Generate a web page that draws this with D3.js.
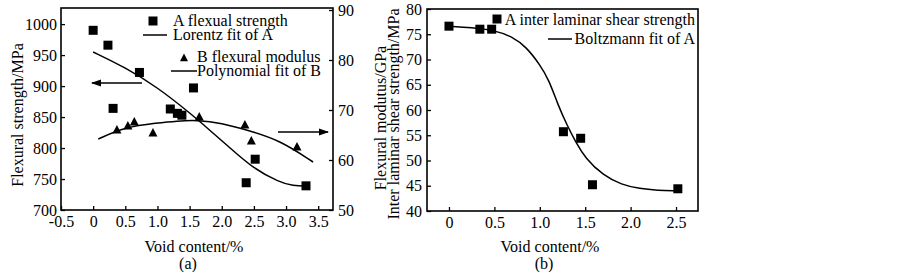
<!DOCTYPE html>
<html>
<head>
<meta charset="utf-8">
<script src="https://cdn.jsdelivr.net/npm/d3@7"></script>
<style>
  body { margin: 0; background: #fff; }
  svg text { font-family: "Liberation Serif", "Times New Roman", serif; font-size: 16px; fill: #000; }
</style>
</head>
<body>
<div id="chart"></div>
<script>
// panel (a) data
var strengthX = [0, 0.23, 0.31, 0.72, 1.2, 1.31, 1.38, 1.56, 2.38, 2.52, 3.31];
var strengthY = [990, 966, 864, 922, 863, 856, 853, 897, 744, 782, 739];
var modulusX = [0.37, 0.54, 0.64, 0.93, 1.65, 2.36, 2.46, 3.17];
var modulusY = [66.0, 66.8, 67.6, 65.4, 68.6, 67.0, 63.8, 62.6];
var lorentzX = [0, 0.5, 1.0, 1.5, 1.8, 2.1, 2.5, 2.9, 3.1, 3.35];
var lorentzY = [955, 930, 898, 857, 830, 803, 766, 745, 739, 738];
var polyX = [0.08, 0.5, 1.0, 1.3, 1.62, 2.0, 2.39, 2.9, 3.42];
var polyY = [64.2, 66.6, 67.4, 67.8, 68.0, 67.4, 66.0, 64.0, 59.6];
var ticksA = [-0.5, 0, 0.5, 1.0, 1.5, 2.0, 2.5, 3.0, 3.5];
var ticksLeftA = [700, 750, 800, 850, 900, 950, 1000];
var ticksRightA = [50, 60, 70, 80, 90];

// panel (b) data
var shearX = [0, 0.34, 0.47, 1.26, 1.45, 1.58, 2.52];
var shearY = [76.6, 76.0, 76.0, 55.7, 54.4, 45.2, 44.4];
var boltzX = [0, 0.25, 0.5, 0.7, 0.85, 1.0, 1.1, 1.2, 1.3, 1.4, 1.5, 1.7, 1.9, 2.1, 2.3, 2.5];
var boltzY = [76.6, 76.3, 75.8, 74.5, 72.5, 69.0, 66.0, 61.0, 57.0, 53.5, 50.5, 47.0, 45.2, 44.4, 44.1, 44.0];
var ticksB = [0, 0.5, 1.0, 1.5, 2.0, 2.5];
var ticksLeftB = [40, 45, 50, 55, 60, 65, 70, 75, 80];

// plain labels: "0", "-0.5", "1.0", "1000"
var fmtX = function(d) { return d === 0 ? "0" : d.toFixed(1); };
var fmtY = function(d) { return String(d); };

var svg = d3.select("#chart").append("svg")
    .attr("width", 903)
    .attr("height", 272);

var defs = svg.append("defs");
defs.append("marker")
    .attr("id", "arrow")
    .attr("viewBox", "0 0 10 10")
    .attr("refX", 9).attr("refY", 5)
    .attr("markerWidth", 7).attr("markerHeight", 7)
    .attr("orient", "auto")
    .append("path")
    .attr("d", "M0,1.5 L10,5 L0,8.5 Z")
    .attr("fill", "#000");

function styleAxis(g) {
    g.select(".domain").remove();
    g.selectAll(".tick line").attr("stroke", "#000").attr("stroke-width", 1.3);
    g.selectAll(".tick text").attr("font-family", null).attr("font-size", null);
}

function square(g, x, y, s) {
    g.append("rect")
        .attr("x", x - s / 2).attr("y", y - s / 2)
        .attr("width", s).attr("height", s)
        .attr("fill", "#000");
}

function triangle(g, x, y, s) {
    g.append("path")
        .attr("d", "M" + x + "," + (y - s * 0.55) + " L" + (x + s / 2) + "," + (y + s * 0.4) + " L" + (x - s / 2) + "," + (y + s * 0.4) + " Z")
        .attr("fill", "#000");
}

// ---------- panel (a) ----------
var xA = d3.scaleLinear().domain([-0.5, 3.73]).range([61, 333]);
var yA = d3.scaleLinear().domain([700, 1026]).range([210, 8]);
var yA2 = d3.scaleLinear().domain([50, 90.4]).range([210, 8]);

var gA = svg.append("g");

gA.append("g").attr("transform", "translate(0,210)")
    .call(d3.axisBottom(xA).tickValues(ticksA).tickFormat(fmtX).tickSize(-4).tickPadding(6))
    .call(styleAxis);
gA.append("g").attr("transform", "translate(61,0)")
    .call(d3.axisLeft(yA).tickValues(ticksLeftA).tickFormat(fmtY).tickSize(-4).tickPadding(4))
    .call(styleAxis);
gA.append("g").attr("transform", "translate(333,0)")
    .call(d3.axisRight(yA2).tickValues(ticksRightA).tickFormat(fmtY).tickSize(-4).tickPadding(5))
    .call(styleAxis);

gA.append("rect")
    .attr("x", 61).attr("y", 8)
    .attr("width", 333 - 61).attr("height", 210 - 8)
    .attr("fill", "none").attr("stroke", "#000").attr("stroke-width", 1.6);

var lineA = d3.line()
    .x(function(d) { return xA(d[0]); })
    .y(function(d) { return yA(d[1]); })
    .curve(d3.curveBasis);
var lineA2 = d3.line()
    .x(function(d) { return xA(d[0]); })
    .y(function(d) { return yA2(d[1]); })
    .curve(d3.curveBasis);

gA.append("path")
    .attr("d", lineA(d3.zip(lorentzX, lorentzY)))
    .attr("fill", "none").attr("stroke", "#000").attr("stroke-width", 1.5);
gA.append("path")
    .attr("d", lineA2(d3.zip(polyX, polyY)))
    .attr("fill", "none").attr("stroke", "#000").attr("stroke-width", 1.5);

strengthX.forEach(function(v, i) { square(gA, xA(v), yA(strengthY[i]), 9); });
modulusX.forEach(function(v, i) { triangle(gA, xA(v), yA2(modulusY[i]), 9); });

// arrows
gA.append("line")
    .attr("x1", 142).attr("y1", 83).attr("x2", 92).attr("y2", 83)
    .attr("stroke", "#000").attr("stroke-width", 1.5)
    .attr("marker-end", "url(#arrow)");
gA.append("line")
    .attr("x1", 278).attr("y1", 132).attr("x2", 328).attr("y2", 132)
    .attr("stroke", "#000").attr("stroke-width", 1.5)
    .attr("marker-end", "url(#arrow)");

// legend (a)
square(gA, 153, 21, 9);
gA.append("text").attr("x", 173).attr("y", 26).text("A flexual strength");
gA.append("line").attr("x1", 143).attr("x2", 167).attr("y1", 35).attr("y2", 35)
    .attr("stroke", "#000").attr("stroke-width", 1.5);
gA.append("text").attr("x", 173).attr("y", 40).text("Lorentz fit of A");
triangle(gA, 184, 58, 8);
gA.append("text").attr("x", 197).attr("y", 62).text("B flexural modulus");
gA.append("line").attr("x1", 171).attr("x2", 197).attr("y1", 71).attr("y2", 71)
    .attr("stroke", "#000").attr("stroke-width", 1.5);
gA.append("text").attr("x", 197).attr("y", 76).text("Polynomial fit of B");

// titles (a)
gA.append("text")
    .attr("transform", "translate(23,115) rotate(-90)")
    .attr("text-anchor", "middle")
    .text("Flexural strength/MPa");
gA.append("text").attr("x", 194).attr("y", 252).attr("text-anchor", "middle").text("Void content/%");
gA.append("text").attr("x", 188).attr("y", 269).attr("text-anchor", "middle").text("(a)");

// ---------- panel (b) ----------
var xB = d3.scaleLinear().domain([-0.242, 2.742]).range([427, 698]);
var yB = d3.scaleLinear().domain([40, 80]).range([211, 9]);

var gB = svg.append("g");

gB.append("g").attr("transform", "translate(0,211)")
    .call(d3.axisBottom(xB).tickValues(ticksB).tickFormat(fmtX).tickSize(-4).tickPadding(6))
    .call(styleAxis);
gB.append("g").attr("transform", "translate(427,0)")
    .call(d3.axisLeft(yB).tickValues(ticksLeftB).tickFormat(fmtY).tickSize(-4).tickPadding(5))
    .call(styleAxis);

gB.append("rect")
    .attr("x", 427).attr("y", 9)
    .attr("width", 698 - 427).attr("height", 211 - 9)
    .attr("fill", "none").attr("stroke", "#000").attr("stroke-width", 1.6);

var lineB = d3.line()
    .x(function(d) { return xB(d[0]); })
    .y(function(d) { return yB(d[1]); })
    .curve(d3.curveBasis);

gB.append("path")
    .attr("d", lineB(d3.zip(boltzX, boltzY)))
    .attr("fill", "none").attr("stroke", "#000").attr("stroke-width", 1.5);

shearX.forEach(function(v, i) { square(gB, xB(v), yB(shearY[i]), 9); });

// legend (b)
square(gB, 497, 19, 9);
gB.append("text").attr("x", 695).attr("y", 25).attr("text-anchor", "end").text("A inter laminar shear strength");
gB.append("line").attr("x1", 548).attr("x2", 572).attr("y1", 39).attr("y2", 39)
    .attr("stroke", "#000").attr("stroke-width", 1.5);
gB.append("text").attr("x", 695).attr("y", 44).attr("text-anchor", "end").text("Boltzmann fit of A");

// titles (b)
gB.append("text")
    .attr("transform", "translate(386,118) rotate(-90)")
    .attr("text-anchor", "middle")
    .text("Flexural modutus/GPa");
gB.append("text")
    .attr("transform", "translate(399,114) rotate(-90)")
    .attr("text-anchor", "middle")
    .text("Inter laminar shear strength/MPa");
gB.append("text").attr("x", 550).attr("y", 252).attr("text-anchor", "middle").text("Void content/%");
gB.append("text").attr("x", 544).attr("y", 269).attr("text-anchor", "middle").text("(b)");
</script>
</body>
</html>
